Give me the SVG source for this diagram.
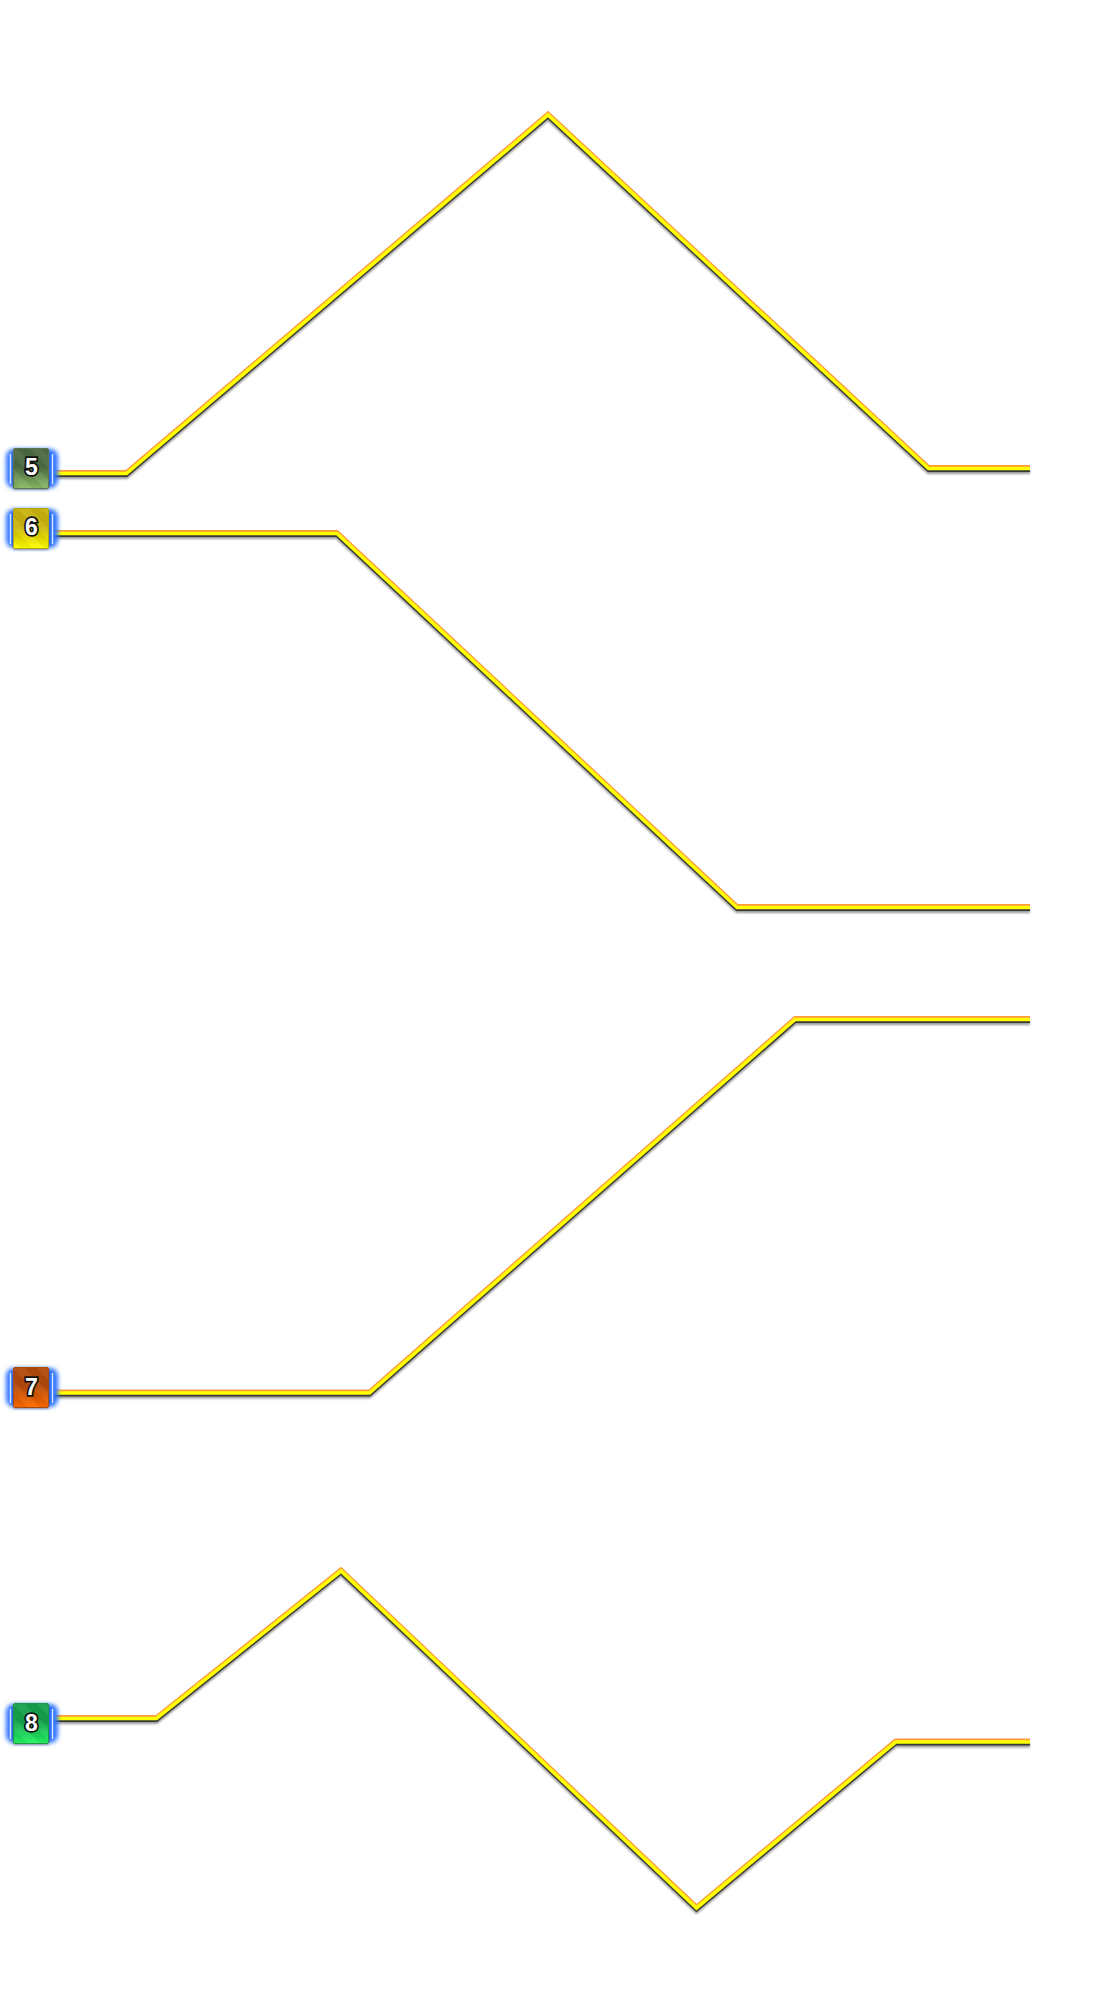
<svg xmlns="http://www.w3.org/2000/svg" width="1097" height="2012" viewBox="0 0 1097 2012">
<style>
.w{fill:none;stroke-linejoin:miter;stroke-linecap:butt}
.sh{stroke:#555;stroke-width:4;opacity:.6;filter:url(#b1)}
.dk{stroke:#383838;stroke-width:4}
.or{stroke:#ff9a3c;stroke-width:4}
.ye{stroke:#ffff00;stroke-width:3.600}
.glow{fill:#2f74ff;filter:url(#b2)}
.tick{stroke:#d6e4ff;stroke-width:1.500}
.box{stroke-width:1;filter:url(#ds)}
.gloss{fill:url(#stripe)}
.num{font:bold 23px "Liberation Sans","DejaVu Sans",sans-serif;fill:#fff;stroke:#111;stroke-width:3.500;paint-order:stroke;text-anchor:middle}
</style>
<defs>
<filter id="b1" x="-5%" y="-5%" width="110%" height="110%"><feGaussianBlur stdDeviation="1"/></filter>
<filter id="b2" x="-20%" y="-20%" width="140%" height="140%"><feGaussianBlur stdDeviation="2.200"/></filter>
<filter id="ds" x="-20%" y="-20%" width="140%" height="140%"><feDropShadow dx="0" dy="1" stdDeviation="1" flood-color="#000" flood-opacity=".35"/></filter>
<linearGradient id="stripe" gradientUnits="userSpaceOnUse" x1="0" y1="12" x2="12" y2="0" spreadMethod="repeat"><stop offset="0" stop-color="#fff" stop-opacity=".05"/><stop offset=".5" stop-color="#fff" stop-opacity=".05"/><stop offset=".5" stop-color="#000" stop-opacity=".04"/><stop offset="1" stop-color="#000" stop-opacity=".04"/></linearGradient>
<linearGradient id="g5" x1="0" y1="0" x2="0" y2="1"><stop offset=".45" stop-color="#4c6b42"/><stop offset="1" stop-color="#8abb66"/></linearGradient>
<linearGradient id="g6" x1="0" y1="0" x2="0" y2="1"><stop offset=".45" stop-color="#c8b208"/><stop offset="1" stop-color="#ffff00"/></linearGradient>
<linearGradient id="g7" x1="0" y1="0" x2="0" y2="1"><stop offset=".45" stop-color="#b24808"/><stop offset="1" stop-color="#ff6a00"/></linearGradient>
<linearGradient id="g8" x1="0" y1="0" x2="0" y2="1"><stop offset=".45" stop-color="#16a14c"/><stop offset="1" stop-color="#22f562"/></linearGradient>
<path id="p5" d="M52 473.500H126.500L548 115L928.500 468.500H1030"/>
<path id="p6" d="M52 533.500H337L737 907.500H1030"/>
<path id="p7" d="M52 1393H369.500L795 1019.500H1030"/>
<path id="p8" d="M52 1718.500H156.500L341 1571L696.500 1908L895.500 1742H1030"/>
</defs>
<g id="connectors">
<g id="wire5"><use href="#p5" class="w sh" y="3.500"/><use href="#p5" class="w dk" y="1.500"/><use href="#p5" class="w or" y="-1.500"/><use href="#p5" class="w ye"/></g>
<g id="wire6"><use href="#p6" class="w sh" y="3.500"/><use href="#p6" class="w dk" y="1.500"/><use href="#p6" class="w or" y="-1.500"/><use href="#p6" class="w ye"/></g>
<g id="wire7"><use href="#p7" class="w sh" y="3.500"/><use href="#p7" class="w dk" y="1.500"/><use href="#p7" class="w or" y="-1.500"/><use href="#p7" class="w ye"/></g>
<g id="wire8"><use href="#p8" class="w sh" y="3.500"/><use href="#p8" class="w dk" y="1.500"/><use href="#p8" class="w or" y="-1.500"/><use href="#p8" class="w ye"/></g>
</g>
<g id="node5"><rect class="glow" x="6" y="449" width="52" height="39" rx="8"/><path class="tick" d="M10.500 454V484M52.500 454V484"/><rect class="box" x="13.500" y="448.500" width="35" height="40" rx="1.500" fill="url(#g5)" stroke="#5d7252"/><rect class="gloss" x="14" y="449" width="34" height="39"/><text class="num" x="31.500" y="475">5</text></g>
<g id="node6"><rect class="glow" x="6" y="509" width="52" height="39" rx="8"/><path class="tick" d="M10.500 514V544M52.500 514V544"/><rect class="box" x="13.500" y="508.500" width="35" height="40" rx="1.500" fill="url(#g6)" stroke="#b8a410"/><rect class="gloss" x="14" y="509" width="34" height="39"/><text class="num" x="31.500" y="535">6</text></g>
<g id="node7"><rect class="glow" x="6" y="1368" width="52" height="39" rx="8"/><path class="tick" d="M10.500 1373V1403M52.500 1373V1403"/><rect class="box" x="13.500" y="1367.500" width="35" height="40" rx="1.500" fill="url(#g7)" stroke="#a84a10"/><rect class="gloss" x="14" y="1368" width="34" height="39"/><text class="num" x="31.500" y="1395">7</text></g>
<g id="node8"><rect class="glow" x="6" y="1704" width="52" height="39" rx="8"/><path class="tick" d="M10.500 1709V1739M52.500 1709V1739"/><rect class="box" x="13.500" y="1703.500" width="35" height="40" rx="1.500" fill="url(#g8)" stroke="#1c9a4a"/><rect class="gloss" x="14" y="1704" width="34" height="39"/><text class="num" x="31.500" y="1731">8</text></g>
</svg>
